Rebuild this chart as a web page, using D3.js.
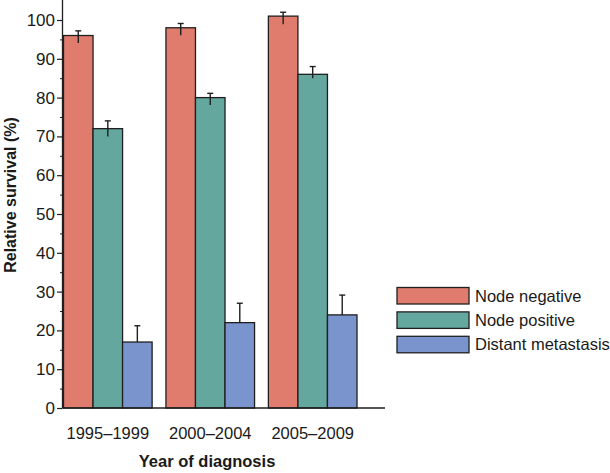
<!DOCTYPE html>
<html>
<head>
<meta charset="utf-8">
<script src="https://cdn.jsdelivr.net/npm/d3@7"></script>
<style>
    body { margin: 0; background: #fff; }
    text { font-family: "Liberation Sans", Arial, sans-serif; fill: #1a1a1a; }
    .bar { stroke: #1f1f1f; stroke-width: 1.3; }
    .errbar { stroke: #1f1f1f; stroke-width: 1.4; fill: none; }
    .axisLine { stroke: #1f1f1f; stroke-width: 1.3; }
</style>
</head>
<body>
<script>
(function(){
//chart data
var categories = ["1995–1999", "2000–2004", "2005–2009"];
var seriesNames = ["Node negative", "Node positive", "Distant metastasis"];
var seriesColors = ["#E07C6E", "#64A79E", "#7A94CE"];

//values and error bar ends for each series
var nodeNegative = [96, 98, 101],
    nodeNegativeHi = [97.2, 99.1, 102],
    nodeNegativeLo = [94.1, 96.1, 98.9];
var nodePositive = [72, 80, 86],
    nodePositiveHi = [74, 81.1, 88],
    nodePositiveLo = [70, 78.1, 85];
var distantMets = [17, 22, 24],
    distantMetsHi = [21.2, 27, 29.1],
    distantMetsLo = [17, 22, 24];

var yTicks = [0, 10, 20, 30, 40, 50, 60, 70, 80, 90, 100];

window.onload = setChart();

function setChart(){
    var width = 610,
        height = 473;

    var svg = d3.select("body")
        .append("svg")
        .attr("width", width)
        .attr("height", height);

    //build rows from the arrays
    var values = [nodeNegative, nodePositive, distantMets],
        his = [nodeNegativeHi, nodePositiveHi, distantMetsHi],
        los = [nodeNegativeLo, nodePositiveLo, distantMetsLo];
    var rows = [];
    categories.forEach(function(c, i){
        seriesNames.forEach(function(s, j){
            rows.push({cat: c, series: s, idx: j, value: values[j][i], hi: his[j][i], lo: los[j][i]});
        });
    });

    //scales
    var x0 = d3.scaleBand()
        .domain(categories)
        .range([63.5, 357])
        .paddingInner(0.135)
        .paddingOuter(0)
        .align(0);

    var x1 = d3.scaleBand()
        .domain(seriesNames)
        .range([0, x0.bandwidth()]);

    var y = d3.scaleLinear()
        .domain([0, 100])
        .range([408, 20]);

    var color = d3.scaleOrdinal()
        .domain(seriesNames)
        .range(seriesColors);

    //bars
    svg.selectAll(".bar")
        .data(rows)
        .enter()
        .append("rect")
        .attr("class", "bar")
        .attr("x", function(d){ return x0(d.cat) + x1(d.series); })
        .attr("width", x1.bandwidth())
        .attr("y", function(d){ return y(d.value); })
        .attr("height", function(d){ return y(0) - y(d.value); })
        .style("fill", function(d){ return color(d.series); });

    //error bars
    var err = svg.selectAll(".err")
        .data(rows)
        .enter()
        .append("g")
        .attr("class", "err");

    err.append("line")
        .attr("class", "errbar")
        .attr("x1", function(d){ return x0(d.cat) + x1(d.series) + x1.bandwidth() / 2; })
        .attr("x2", function(d){ return x0(d.cat) + x1(d.series) + x1.bandwidth() / 2; })
        .attr("y1", function(d){ return y(d.hi); })
        .attr("y2", function(d){ return y(d.lo); });

    err.append("line")
        .attr("class", "errbar")
        .attr("x1", function(d){ return x0(d.cat) + x1(d.series) + x1.bandwidth() / 2 - 3; })
        .attr("x2", function(d){ return x0(d.cat) + x1(d.series) + x1.bandwidth() / 2 + 3; })
        .attr("y1", function(d){ return y(d.hi); })
        .attr("y2", function(d){ return y(d.hi); });

    //y axis with minor ticks
    var yMinor = d3.axisLeft(y)
        .tickValues(d3.range(5, 100, 10))
        .tickSize(2.5)
        .tickFormat("");
    svg.append("g")
        .attr("transform", "translate(62.5,0)")
        .call(yMinor)
        .call(function(g){ g.select(".domain").remove(); g.selectAll("line").attr("stroke", "#1f1f1f"); });

    var yAxis = d3.axisLeft(y)
        .tickValues(yTicks)
        .tickSize(5.5)
        .tickPadding(2);
    svg.append("g")
        .attr("transform", "translate(62.5,0)")
        .call(yAxis)
        .call(function(g){
            g.select(".domain").remove();
            g.selectAll("line").attr("stroke", "#1f1f1f").attr("stroke-width", 1.2);
            g.selectAll("text").style("font-size", "17px").attr("fill", "#1a1a1a")
                .style("font-family", "Liberation Sans, Arial, sans-serif");
        });

    //axis lines
    svg.append("line")
        .attr("class", "axisLine")
        .attr("x1", 62.5).attr("x2", 62.5)
        .attr("y1", y(105.2)).attr("y2", y(0));
    svg.append("line")
        .attr("class", "axisLine")
        .attr("x1", 62.5).attr("x2", 385)
        .attr("y1", y(0)).attr("y2", y(0));

    //category labels
    svg.selectAll(".catLabel")
        .data(categories)
        .enter()
        .append("text")
        .attr("class", "catLabel")
        .attr("x", function(d){ return x0(d) + x0.bandwidth() / 2; })
        .attr("y", 439)
        .attr("text-anchor", "middle")
        .style("font-size", "16.5px")
        .text(function(d){ return d; });

    //axis titles
    svg.append("text")
        .attr("x", 207)
        .attr("y", 467)
        .attr("text-anchor", "middle")
        .style("font-size", "16.5px")
        .style("font-weight", "bold")
        .text("Year of diagnosis");

    svg.append("text")
        .attr("transform", "translate(16,195) rotate(-90)")
        .attr("text-anchor", "middle")
        .style("font-size", "16px")
        .style("font-weight", "bold")
        .text("Relative survival (%)");

    //legend
    var legend = svg.selectAll(".legend")
        .data(seriesNames)
        .enter()
        .append("g")
        .attr("class", "legend")
        .attr("transform", function(d, i){ return "translate(397," + (287.5 + i * 24.4) + ")"; });

    legend.append("rect")
        .attr("class", "bar")
        .attr("width", 72)
        .attr("height", 16.5)
        .style("fill", function(d){ return color(d); });

    legend.append("text")
        .attr("x", 78)
        .attr("y", 14)
        .style("font-size", "16.5px")
        .text(function(d){ return d; });
}
})();
</script>
</body>
</html>
